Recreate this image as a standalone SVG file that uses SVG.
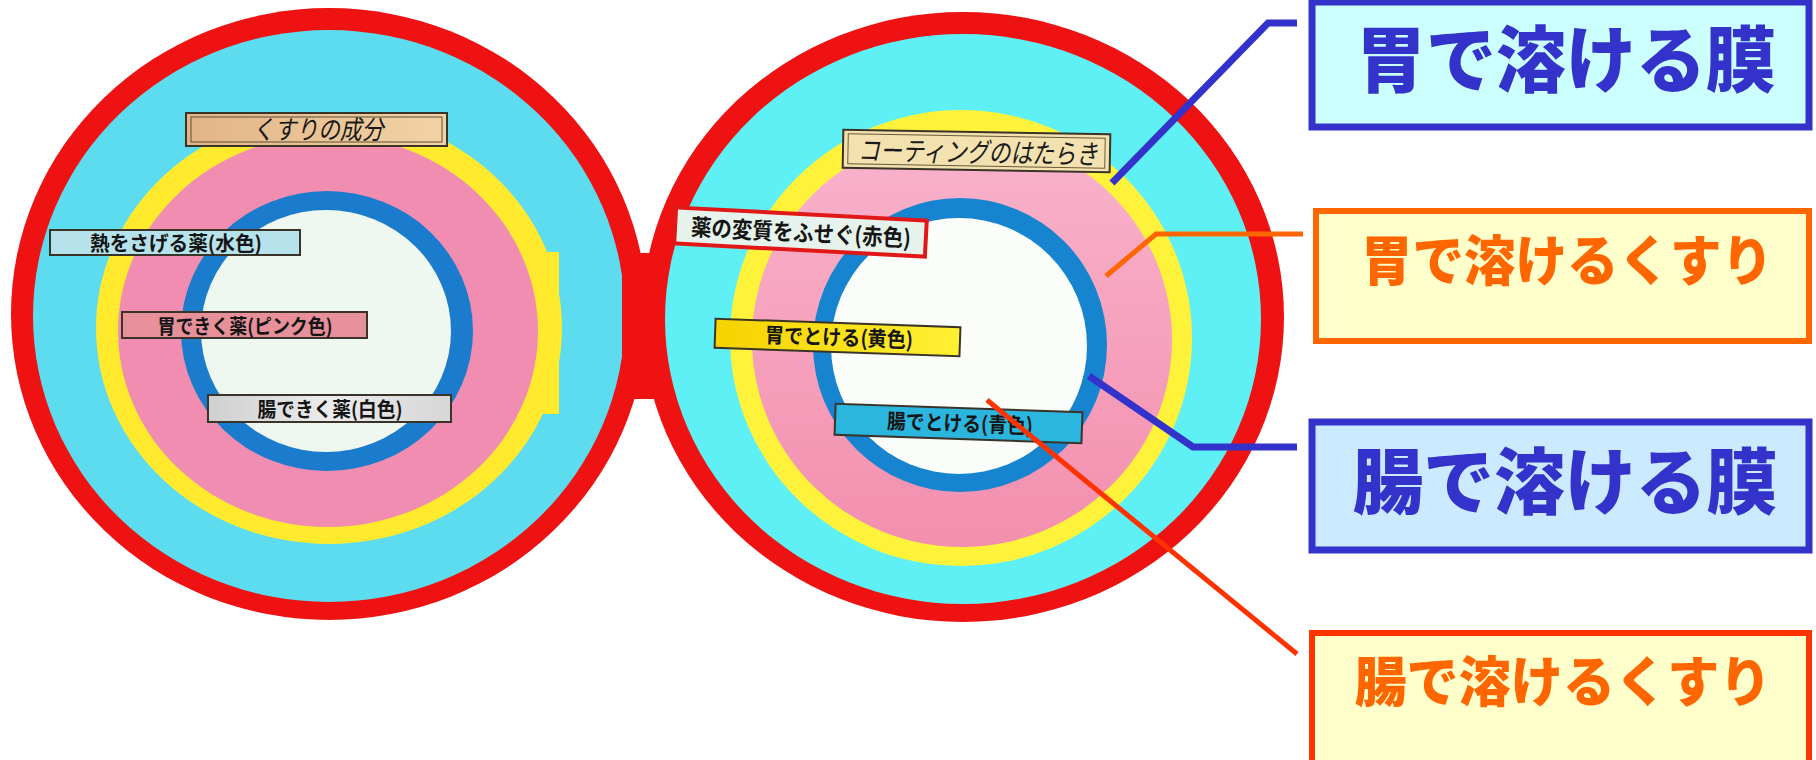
<svg xmlns="http://www.w3.org/2000/svg" width="1816" height="760" viewBox="0 0 1816 760">
<defs>
<style>
.lbl{font-family:"Noto Sans CJK JP","Noto Sans CJK SC",sans-serif;font-weight:700;fill:#151515;text-anchor:middle}
.ttl{font-family:"Noto Sans CJK JP","Noto Sans CJK SC",sans-serif;font-weight:400;font-style:italic;fill:#1a1a1a;text-anchor:middle}
.tag{stroke:#3a3428;stroke-width:2}
.big{font-family:"Noto Sans CJK JP","Noto Sans CJK SC",sans-serif;font-weight:900;text-anchor:middle}
.blue{fill:#3333cc}
.orange{fill:#ff6600}
.conn{fill:none;stroke-linejoin:miter;stroke-linecap:butt}
</style>
<linearGradient id="tan" x1="0" y1="0" x2="1" y2="0">
<stop offset="0" stop-color="#e2b487"/><stop offset="1" stop-color="#f2d3a4"/>
</linearGradient>
<linearGradient id="gry" x1="0" y1="0" x2="1" y2="0">
<stop offset="0" stop-color="#cfcfcf"/><stop offset="0.5" stop-color="#ececec"/><stop offset="1" stop-color="#d6d6d6"/>
</linearGradient>
<linearGradient id="yel" x1="0" y1="0" x2="1" y2="0">
<stop offset="0" stop-color="#f6d200"/><stop offset="1" stop-color="#fff033"/>
</linearGradient>
<linearGradient id="pinkR" x1="0" y1="0" x2="0" y2="1">
<stop offset="0" stop-color="#f9b3cc"/><stop offset="1" stop-color="#f38fae"/>
</linearGradient>
</defs>
<rect width="1816" height="760" fill="#ffffff"/>

<g id="left-disc">
<ellipse cx="329" cy="314" rx="318" ry="306" fill="#ee1212"/>
<ellipse cx="329" cy="316" rx="296" ry="286" fill="#5ddcef"/>
<ellipse cx="329" cy="328" rx="233" ry="216" fill="#ffea2e"/>
<rect x="540" y="252" width="19" height="162" fill="#ffea2e"/>
<ellipse cx="328" cy="331" rx="210" ry="196" fill="#f18db1"/>
<ellipse cx="327" cy="331" rx="146" ry="140" fill="#1b7ccd"/>
<ellipse cx="326" cy="331" rx="125" ry="121" fill="#eef8f1"/>
</g>

<rect id="hinge" x="622" y="253" width="46" height="146" fill="#ee1212"/>

<g id="right-disc">
<ellipse cx="963" cy="317" rx="321" ry="305" fill="#ee1212"/>
<ellipse cx="963" cy="319" rx="298" ry="285" fill="#5ff0f6"/>
<ellipse cx="961" cy="338" rx="231" ry="228" fill="#fff23a"/>
<ellipse cx="962" cy="340" rx="210" ry="207" fill="url(#pinkR)"/>
<ellipse cx="960" cy="345" rx="147" ry="147" fill="#1784cf"/>
<ellipse cx="959" cy="346" rx="128" ry="128" fill="#fbfdfb"/>
</g>

<g id="label-ingredients">
<rect class="tag" x="186" y="113" width="261" height="33" fill="url(#tan)"/>
<rect x="191" y="117" width="251" height="25" fill="none" stroke="#5a4e3a" stroke-width="1"/>
<text class="ttl" x="318" y="139" font-size="26" textLength="131" lengthAdjust="spacingAndGlyphs">くすりの成分</text>
</g>

<g id="label-fever">
<rect class="tag" x="50" y="230" width="250" height="25" fill="#b6e2ec"/>
<text class="lbl" x="176" y="251" font-size="20" textLength="172" lengthAdjust="spacingAndGlyphs">熱をさげる薬(水色)</text>
</g>

<g id="label-stomach-drug">
<rect class="tag" x="122" y="312" width="245" height="26" fill="#e8909a"/>
<text class="lbl" x="245" y="334" font-size="20" textLength="175" lengthAdjust="spacingAndGlyphs">胃できく薬(ピンク色)</text>
</g>

<g id="label-intestine-drug">
<rect class="tag" x="208" y="395" width="243" height="27" fill="url(#gry)"/>
<text class="lbl" x="330" y="417" font-size="20" textLength="145" lengthAdjust="spacingAndGlyphs">腸できく薬(白色)</text>
</g>

<g id="label-coating" transform="rotate(1 976 151)">
<rect class="tag" x="843" y="132" width="267" height="38" fill="#f3e2b0"/>
<rect x="848" y="136" width="257" height="30" fill="none" stroke="#6a5a3a" stroke-width="1"/>
<text class="ttl" x="978" y="162" font-size="27" textLength="240" lengthAdjust="spacingAndGlyphs">コーティングのはたらき</text>
</g>

<g id="label-protect" transform="rotate(3 800 232)">
<rect x="675" y="214" width="251" height="36" fill="#e6f3ec" stroke="#e01818" stroke-width="4"/>
<text class="lbl" x="801" y="241" font-size="23" textLength="220" lengthAdjust="spacingAndGlyphs">薬の変質をふせぐ(赤色)</text>
</g>

<g id="label-yellow" transform="rotate(2 837 338)">
<rect class="tag" x="715" y="323" width="245" height="29" fill="url(#yel)"/>
<text class="lbl" x="839" y="345" font-size="21" textLength="148" lengthAdjust="spacingAndGlyphs">胃でとける(黄色)</text>
</g>

<g id="label-blue" transform="rotate(2 958 424)">
<rect class="tag" x="835" y="408" width="247" height="31" fill="#2bb6e0"/>
<text class="lbl" x="960" y="431" font-size="21" textLength="146" lengthAdjust="spacingAndGlyphs">腸でとける(青色)</text>
</g>

<g id="box-stomach-film">
<rect x="1312" y="2" width="497" height="125" fill="#ccffff" stroke="#3333cc" stroke-width="7"/>
<text class="big blue" x="1566" y="86" font-size="72" textLength="420" lengthAdjust="spacingAndGlyphs">胃で溶ける膜</text>
</g>

<g id="box-stomach-drug">
<rect x="1316" y="211" width="493" height="130" fill="#ffffcc" stroke="#ff6600" stroke-width="6"/>
<text class="big orange" x="1567" y="281" font-size="54" textLength="412" lengthAdjust="spacingAndGlyphs">胃で溶けるくすり</text>
</g>

<g id="box-intestine-film">
<rect x="1312" y="422" width="497" height="128" fill="#cceaff" stroke="#3333cc" stroke-width="7"/>
<text class="big blue" x="1565" y="508" font-size="72" textLength="425" lengthAdjust="spacingAndGlyphs">腸で溶ける膜</text>
</g>

<g id="box-intestine-drug">
<rect x="1312" y="633" width="497" height="140" fill="#ffffcc" stroke="#ff3300" stroke-width="6"/>
<text class="big orange" x="1563" y="702" font-size="54" textLength="417" lengthAdjust="spacingAndGlyphs">腸で溶けるくすり</text>
</g>

<g id="connectors">
<polyline class="conn" points="1112,183 1268,23 1297,23" stroke="#3333cc" stroke-width="7"/>
<polyline class="conn" points="1106,276 1156,234 1303,234" stroke="#ff6600" stroke-width="5"/>
<polyline class="conn" points="1089,376 1193,447 1297,447" stroke="#3333cc" stroke-width="7"/>
<polyline class="conn" points="987,400 1297,654" stroke="#ff3300" stroke-width="5"/>
</g>
</svg>
